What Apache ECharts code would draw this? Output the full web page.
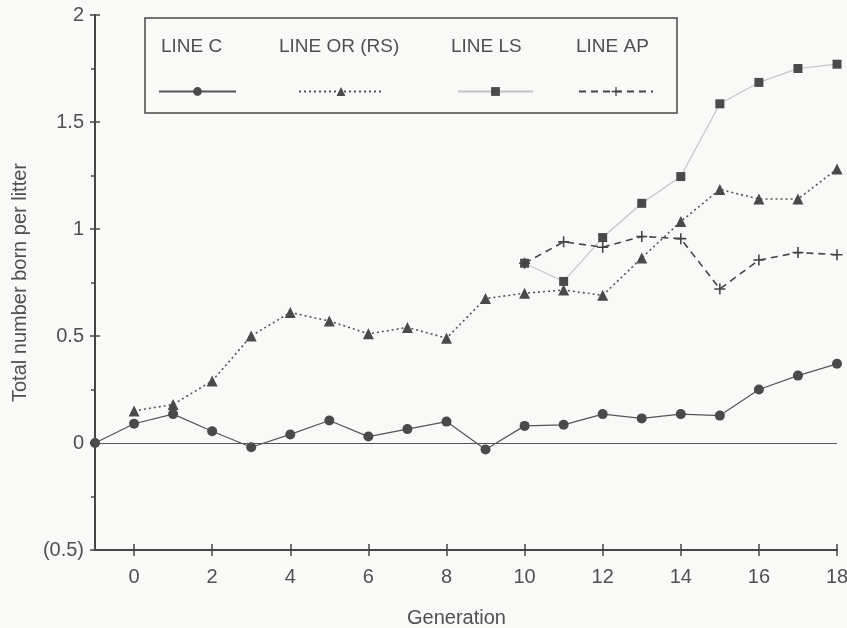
<!DOCTYPE html>
<html>
<head>
<meta charset="utf-8">
<script src="https://cdn.jsdelivr.net/npm/echarts@6/dist/echarts.min.js"></script>
<style>html,body{margin:0;padding:0;background:#f9f9f7;}#chart{width:847px;height:628px;}</style>
</head>
<body>
<div id="chart"></div>
<script>
// Generations (x values)
const generations = [-1, 0, 1, 2, 3, 4, 5, 6, 7, 8, 9, 10, 11, 12, 13, 14, 15, 16, 17, 18];
// Series values (null = not measured)
const lineC  = [0, 0.09, 0.135, 0.055, -0.02, 0.04, 0.105, 0.03, 0.065, 0.10, -0.03, 0.08, 0.085, 0.135, 0.115, 0.135, 0.128, 0.25, 0.315, 0.37];
const lineOR = [null, 0.15, 0.18, 0.29, 0.50, 0.61, 0.57, 0.51, 0.54, 0.49, 0.675, 0.70, 0.715, 0.69, 0.865, 1.035, 1.185, 1.14, 1.14, 1.28];
const lineLS = [null, null, null, null, null, null, null, null, null, null, null, 0.84, 0.755, 0.96, 1.12, 1.245, 1.585, 1.685, 1.75, 1.77];
const lineAP = [null, null, null, null, null, null, null, null, null, null, null, 0.84, 0.94, 0.915, 0.965, 0.955, 0.72, 0.855, 0.89, 0.88];
// Tick values / labels
const xTickValues = [0, 2, 4, 6, 8, 10, 12, 14, 16, 18];
const yTickValues = [-0.5, 0, 0.5, 1, 1.5, 2];
const seriesNames = ['LINE C', 'LINE OR (RS)', 'LINE LS', 'LINE AP'];

function pairs(vals) { return generations.map((g, i) => [g, vals[i]]); }

const ink = '#474747';
const textColor = '#505050';
const font = 'Liberation Sans';

const chart = echarts.init(document.getElementById('chart'), null, {renderer: 'canvas'});

const baseX = {
  type: 'value', min: -1, max: 18,
  splitLine: {show: false},
  axisLine: {show: true, onZero: false, lineStyle: {color: ink, width: 2}}
};
const baseY = {
  type: 'value', min: -0.5, max: 2, interval: 0.5,
  splitLine: {show: false},
  axisLine: {show: true, onZero: false, lineStyle: {color: ink, width: 2}}
};

const iconLegendPos = [[158, 77], [298, 84], [457, 75], [578, 74]];
const textLegendPos = [155, 273, 445, 570];

const legends = [];
seriesNames.forEach((n, i) => {
  legends.push({
    data: [n], left: iconLegendPos[i][0], top: 86, padding: 0,
    itemWidth: iconLegendPos[i][1], itemHeight: 11, itemGap: 0,
    formatter: () => '', selectedMode: false
  });
  legends.push({
    data: [n], left: textLegendPos[i], top: 37, padding: 0,
    itemWidth: 0, itemHeight: 0, itemGap: 0, selectedMode: false,
    textStyle: {color: textColor, fontSize: 19, fontFamily: font}
  });
});

const option = {
  backgroundColor: '#f9f9f7',
  animation: false,
  grid: {left: 95, right: 10, top: 15, bottom: 78, containLabel: false, outerBoundsMode: 'none'},
  legend: legends,
  graphic: [{
    type: 'rect', silent: true, z: 100,
    shape: {x: 145, y: 18, width: 532, height: 95},
    style: {fill: 'none', stroke: ink, lineWidth: 1.5}
  }],
  xAxis: [
    Object.assign({}, baseX, {
      position: 'bottom',
      name: 'Generation', nameLocation: 'middle', nameGap: 58,
      nameTextStyle: {color: textColor, fontSize: 20, fontFamily: font, padding: [0, 19, 0, 0]},
      axisTick: {show: true, inside: false, length: 6, customValues: xTickValues, lineStyle: {color: ink, width: 1.5}},
      axisLabel: {show: true, customValues: xTickValues, margin: 17, color: textColor, fontSize: 20, fontFamily: font}
    }),
    Object.assign({}, baseX, {
      position: 'bottom',
      axisTick: {show: true, inside: true, length: 6, customValues: xTickValues, lineStyle: {color: ink, width: 1.5}},
      axisLabel: {show: false}
    })
  ],
  yAxis: [
    Object.assign({}, baseY, {
      position: 'left',
      name: 'Total number born per litter', nameLocation: 'middle', nameGap: 65,
      nameTextStyle: {color: textColor, fontSize: 20, fontFamily: font},
      axisTick: {show: true, inside: false, length: 5, lineStyle: {color: ink, width: 1.5}},
      minorTick: {show: true, splitNumber: 2, length: 4, lineStyle: {color: ink, width: 1.5}},
      axisLabel: {
        show: true, margin: 11, color: textColor, fontSize: 20, fontFamily: font,
        customValues: yTickValues,
        formatter: v => v < 0 ? '(' + Math.abs(v) + ')' : String(v)
      }
    }),
    Object.assign({}, baseY, {
      position: 'left',
      axisTick: {show: true, inside: true, length: 5, lineStyle: {color: ink, width: 1.5}},
      axisLabel: {show: false}
    })
  ],
  series: [
    {
      name: 'LINE LS', type: 'line', data: pairs(lineLS), z: 2,
      symbol: 'rect', symbolSize: 9,
      itemStyle: {color: '#4a4a4a'},
      lineStyle: {color: '#c4c4c4', width: 1.2, type: 'solid'}
    },
    {
      name: 'LINE C', type: 'line', data: pairs(lineC), z: 3,
      symbol: 'circle', symbolSize: 10,
      itemStyle: {color: '#4a4a4a'},
      lineStyle: {color: '#555', width: 1.2, type: 'solid'},
      markLine: {
        silent: true, symbol: 'none', label: {show: false},
        lineStyle: {color: '#555', width: 1.2, type: 'solid'},
        data: [{yAxis: 0}]
      }
    },
    {
      name: 'LINE OR (RS)', type: 'line', data: pairs(lineOR), z: 4,
      symbol: 'triangle', symbolSize: 11,
      itemStyle: {color: '#4a4a4a'},
      lineStyle: {color: '#555', width: 1.6, type: [2, 3]}
    },
    {
      name: 'LINE AP', type: 'line', data: pairs(lineAP), z: 5,
      symbol: 'path://M-1,-7 L1,-7 L1,7 L-1,7 Z M-7,-1 L7,-1 L7,1 L-7,1 Z', symbolSize: 11,
      itemStyle: {color: '#444'},
      lineStyle: {color: '#444', width: 1.6, type: [7, 5]}
    }
  ]
};
chart.setOption(option);
</script>
</body>
</html>
